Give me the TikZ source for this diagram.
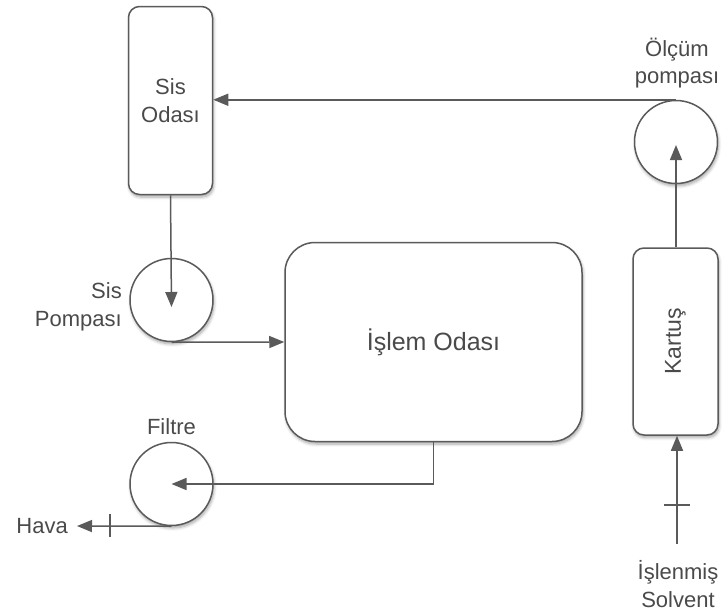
\documentclass[tikz,border=0pt]{standalone}
\usepackage{fontspec}
\setmainfont{Liberation Sans}
\usetikzlibrary{arrows.meta,shadows.blur,calc}
\definecolor{ln}{HTML}{5A5A5A}
\definecolor{tx}{HTML}{4A4A4A}
\tikzset{
  lbl/.style={text=tx,font=\fontsize{22}{27.5}\selectfont,align=center,inner sep=0pt},
  sh/.style={blur shadow={shadow xshift=1pt,shadow yshift=-2.5pt,shadow blur steps=6,shadow opacity=35,shadow blur radius=3pt}},
  unit/.style={draw=ln,line width=1.5pt,fill=white,sh,text=tx,font=\fontsize{22}{27.5}\selectfont,align=center,inner sep=0pt},
  boxr/.style={unit,rectangle,rounded corners=11pt},
  pump/.style={unit,circle,minimum size=83pt},
  flow/.style={draw=ln,line width=1.5pt,-{Triangle[length=15pt,width=12pt]}},
  pipe/.style={draw=ln,line width=1.5pt},
}
\begin{document}
\begin{tikzpicture}[x=1pt,y=-1pt]
\useasboundingbox (0,0) rectangle (724,614);
% units
\node[boxr,minimum width=84pt,minimum height=188pt] (sisoda) at (170.5,100.5) {Sis\\Odası};
\node[pump] (sispomp) at (171.5,300) {};
\node[boxr,rounded corners=30pt,minimum width=297pt,minimum height=199pt,font=\fontsize{25}{28}\selectfont] (islem) at (433.5,342) {İşlem Odası};
\node[pump] (filtre) at (171.5,484) {};
\node[pump] (olcum) at (676,142) {};
\node[boxr,minimum width=85pt,minimum height=187pt,font=\fontsize{23}{28}\selectfont] (kartus) at (675.5,341.5) {\rotatebox{90}{Kartuş}};
% labels
\node[lbl,align=right,anchor=east] (lsp) at (122,307) {Sis\\Pompası};
\node[lbl] (lfil) at (171.5,427) {Filtre};
\node[lbl] (lolc) at (677,63) {Ölçüm\\pompası};
\node[lbl] (lsol) at (678,584) {İşlenmiş\\Solvent};
\node[lbl,anchor=east] (hava) at (68,526) {Hava};
\coordinate (solin) at (677,544);
% connectors
\draw[flow] (sisoda.south) -- ($(sispomp.center)+(0,7)$);
\draw[flow] (sispomp.south) -- (islem.west);
\draw[flow] (islem.south) |- (filtre.center);
\draw[flow] (filtre.south) -- ($(hava.east)+(9,0)$);
\draw[pipe] (110,514) -- (110,537);
\draw[flow] (olcum.north) -- (olcum.north -| sisoda.east);
\draw[flow] (kartus.north -| olcum.center) -- ($(olcum.center)+(0,3)$);
\draw[flow] (solin) -- (solin |- kartus.south);
\draw[pipe] (664,505) -- (690,505);
\end{tikzpicture}
\end{document}
